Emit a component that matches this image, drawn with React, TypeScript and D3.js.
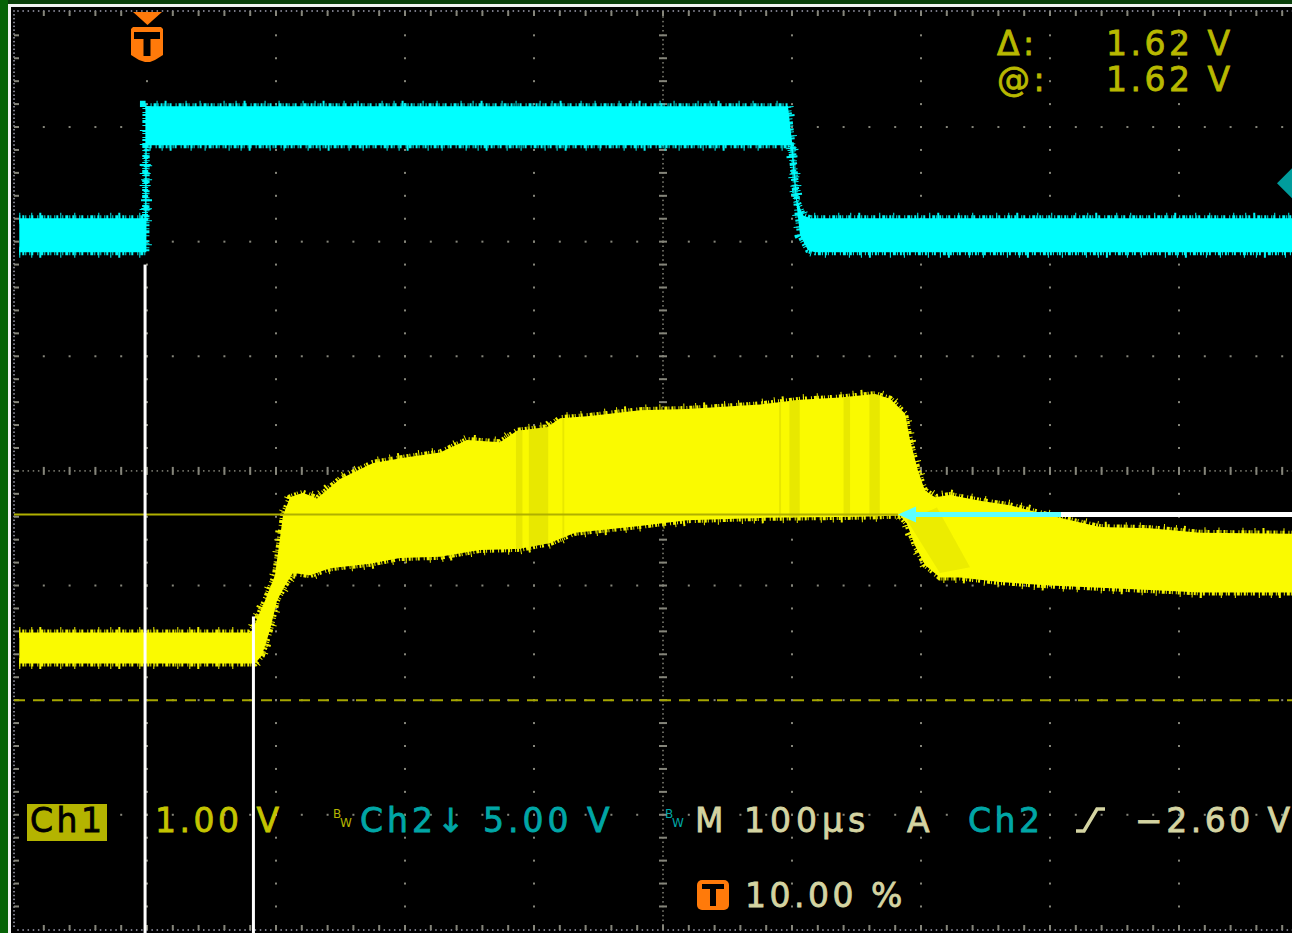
import React from 'react';
import * as d3 from 'd3';

const W = 1292;
const H = 933;

// horizontal: 100 µs/div, trigger position 10 %
const timeDomain: [number, number] = [-100, 900];
const divDomain: [number, number] = [-4, 4];

const ch1VoltsPerDiv = 1.0;
const ch1OffsetDiv = -2; // ch1 ground = dashed line
const ch2VoltsPerDiv = 5.0;
const ch2OffsetDiv = 2.51; // ch2 ground marker on the right

// ch1 (yellow) envelope, [µs, V]
const ch1Upper: [number, number][] = [
  [-99, 0.59], [79.8, 0.59], [81.4, 0.61], [91.5, 0.87], [99.2, 1.09], [105.4, 1.61],
  [110.9, 1.77], [120.9, 1.81], [131.8, 1.76], [149.6, 1.93], [175.2, 2.07], [201.6, 2.12],
  [227.1, 2.16], [248.1, 2.27], [273.6, 2.25], [286.8, 2.35], [310.1, 2.38], [320.2, 2.46],
  [343.4, 2.48], [382.2, 2.53], [418.6, 2.54], [475.2, 2.58], [506.2, 2.62], [537.2, 2.64],
  [564.3, 2.67], [576.0, 2.63], [587.6, 2.50], [591.5, 2.27], [597.7, 2.0], [603.1, 1.83],
  [610.9, 1.77], [622.5, 1.79], [645.7, 1.74], [669.0, 1.70], [700.0, 1.61], [738.8, 1.51],
  [777.5, 1.50], [816.3, 1.46], [900, 1.45],
];
const ch1Lower: [number, number][] = [
  [-99, 0.32], [83.7, 0.32], [89.1, 0.39], [95.3, 0.61], [100.8, 0.87], [107.0, 1.0],
  [113.2, 1.11], [126.4, 1.09], [141.9, 1.15], [172.9, 1.19], [196.1, 1.24], [227.1, 1.25],
  [258.1, 1.31], [289.1, 1.32], [312.4, 1.37], [331.8, 1.46], [382.2, 1.52], [418.6, 1.57],
  [475.2, 1.59], [552.7, 1.60], [583.7, 1.61], [589.1, 1.54], [595.3, 1.35], [603.1, 1.18],
  [614.7, 1.07], [630.2, 1.07], [661.2, 1.03], [700.0, 1.0], [738.8, 0.98], [777.5, 0.96],
  [816.3, 0.94], [900, 0.94],
];
// darker persistence stripes inside the ch1 band, [µs from, µs to]
const ch1Shade: [number, number][] = [
  [286, 291], [296, 311], [322, 323.5], [490, 491.5], [498, 506], [540, 545], [560, 568],
];
// darker wedge behind the ch1 falling edge, [µs, V]
const ch1FallShade: [number, number][] = [
  [589.1, 1.57], [612.4, 1.68], [638, 1.16], [614.7, 1.11],
];

// ch2 (cyan) envelope, [µs, V]
const ch2Upper: [number, number][] = [
  [-99, -1.53], [-1.5, -1.53], [-1.2, 3.36], [496.9, 3.36], [500.8, 1.43], [503.9, -0.74],
  [508.5, -1.4], [514, -1.53], [900, -1.53],
];
const ch2Lower: [number, number][] = [
  [-99, -3.01], [-0.5, -3.01], [-0.2, 1.66], [499.2, 1.66], [502.3, -0.31], [506.2, -2.27],
  [512.4, -2.92], [517.8, -3.01], [900, -3.01],
];

// cursor readout
const cursorVolts = 1.62;
const cursorArrowTip = 582.2; // µs
const cursorArrowEnd = 708.5; // µs, cyan part ends, white continues

// white delay markers: [µs, top in div]
const delayMarkers: [number, number][] = [
  [-1.5, 1.8],
  [82.5, -1.27],
];

const readoutTop = [
  { label: 'Δ:', value: '1.62 V' },
  { label: '@:', value: '1.62 V' },
];

const YEL = '#b8b800';
const TEAL = '#00a6a6';
const KHAKI = '#d4d4a2';
const ORANGE = '#ff7a0a';
const GRID = '#85857a';
const FRAME = '#a2a2b4';
const FONT = '"DejaVu Sans", sans-serif';

export default function App() {
  const x = d3.scaleLinear().domain(timeDomain).range([18, 1308]);
  const yDiv = d3.scaleLinear().domain(divDomain).range([929.4, 12.4]);
  const y1 = (v: number) => yDiv(v / ch1VoltsPerDiv + ch1OffsetDiv);
  const y2 = (v: number) => yDiv(v / ch2VoltsPerDiv + ch2OffsetDiv);

  const line1 = d3.line<[number, number]>().x(d => x(d[0])).y(d => y1(d[1]));
  const line2 = d3.line<[number, number]>().x(d => x(d[0])).y(d => y2(d[1]));
  const band1 = line1(ch1Upper.concat(ch1Lower.slice().reverse())) + 'Z';
  const band2 = line2(ch2Upper.concat(ch2Lower.slice().reverse())) + 'Z';

  // graticule
  const majorT = d3.range(0, 11).map(i => timeDomain[0] + i * 100);
  const majorD = d3.range(-3, 4);
  const minorT = d3.range(1, 50).map(k => timeDomain[0] + k * 20);
  const minorD = d3.range(1, 40).map(k => divDomain[0] + k * 0.2);
  const fineT = d3.range(0, 251).map(k => timeDomain[0] + k * 4);
  const fineD = d3.range(0, 201).map(k => divDomain[0] + k * 0.04);

  const dots: JSX.Element[] = [];
  majorT.slice(1, 10).forEach(t => {
    if (t === 400) return;
    minorD.forEach((d, i) =>
      dots.push(<rect key={`v${t}-${i}`} x={x(t) - 1} y={yDiv(d) - 1} width={2} height={2} fill={GRID} />));
  });
  majorD.forEach(dd => {
    if (dd === 0) return;
    minorT.forEach((t, i) =>
      dots.push(<rect key={`h${dd}-${i}`} x={x(t) - 1} y={yDiv(dd) - 1} width={2} height={2} fill={GRID} />));
  });
  // centre lines
  fineT.forEach((t, i) =>
    dots.push(<rect key={`ch${i}`} x={x(t) - 0.75} y={yDiv(0) - 0.75} width={1.5} height={1.5} fill={GRID} />));
  fineD.forEach((d, i) =>
    dots.push(<rect key={`cv${i}`} x={x(400) - 0.75} y={yDiv(d) - 0.75} width={1.5} height={1.5} fill={GRID} />));
  minorT.forEach((t, i) =>
    dots.push(<rect key={`cht${i}`} x={x(t) - 1} y={yDiv(0) - 4} width={2} height={8} fill={GRID} />));
  minorD.forEach((d, i) =>
    dots.push(<rect key={`cvt${i}`} x={x(400) - 4} y={yDiv(d) - 1} width={8} height={2} fill={GRID} />));
  // frame
  const fTop = 11, fBot = 930, fLeft = 14;
  fineT.forEach((t, i) => {
    dots.push(<rect key={`ft${i}`} x={x(t) - 0.75} y={fTop - 0.75} width={1.5} height={1.5} fill={FRAME} />);
    dots.push(<rect key={`fb${i}`} x={x(t) - 0.75} y={fBot - 0.75} width={1.5} height={1.5} fill={FRAME} />);
  });
  d3.range(0, 240).forEach(k => {
    const yy = fTop + k * ((fBot - fTop) / 240);
    dots.push(<rect key={`fl${k}`} x={fLeft - 0.75} y={yy - 0.75} width={1.5} height={1.5} fill={FRAME} />);
  });
  minorT.forEach((t, i) => {
    dots.push(<rect key={`ftt${i}`} x={x(t) - 1} y={fTop} width={2} height={5} fill={GRID} />);
    dots.push(<rect key={`fbt${i}`} x={x(t) - 1} y={fBot - 5} width={2} height={5} fill={GRID} />);
  });
  minorD.forEach((d, i) =>
    dots.push(<rect key={`flt${i}`} x={fLeft} y={yDiv(d) - 1} width={5} height={2} fill={GRID} />));

  // noisy edge look, done with irregular dashes along the envelope
  const jag = (p: string, color: string, key: string) => [
    <path key={key + 'a'} d={p} fill="none" stroke={color} strokeWidth={6}
      strokeDasharray="1 2 2 1 1 3 1 1 2 4 1 2 3 1" />,
    <path key={key + 'b'} d={p} fill="none" stroke={color} strokeWidth={11}
      strokeDasharray="1 11 1 7 2 19 1 13 1 23" />,
  ];

  const tY = y1(cursorVolts);
  const tipX = x(cursorArrowTip);

  return (
    <svg width={W} height={H} style={{ position: 'absolute', left: 0, top: 0, display: 'block', background: '#000' }}
      fontFamily={FONT}>
      <rect x={0} y={0} width={W} height={H} fill="#000" />
      {/* bezel */}
      <rect x={0} y={0} width={W} height={4} fill="#0a3f0a" />
      <rect x={0} y={0} width={8} height={H} fill="#066306" />
      <rect x={8} y={4} width={W} height={3} fill="#f2f2f2" />
      <rect x={8} y={4} width={3} height={H} fill="#f2f2f2" />

      <g>{dots}</g>

      {/* ch1 ground (dashed) */}
      <line x1={fLeft} x2={W} y1={y1(0)} y2={y1(0)} stroke="#a6a600" strokeWidth={2} strokeDasharray="11 8" />

      <clipPath id="plot"><rect x={16} y={12} width={W} height={916} /></clipPath>
      <g clipPath="url(#plot)">
        {jag(line2(ch2Upper)!, '#00f4f4', 'c2u')}
        {jag(line2(ch2Lower)!, '#00f4f4', 'c2l')}
        <path d={band2} fill="#00ffff" />

        {jag(line1(ch1Upper)!, '#f0f000', 'c1u')}
        {jag(line1(ch1Lower)!, '#f0f000', 'c1l')}
        <path d={band1} fill="#fafa00" />
        <clipPath id="band1"><path d={band1} /></clipPath>
        <g clipPath="url(#band1)">
          {ch1Shade.map(([a, b], i) => (
            <rect key={i} x={x(a)} width={x(b) - x(a)} y={0} height={H} fill="#d8d800" opacity={0.55} />
          ))}
          <path d={line1(ch1FallShade) + 'Z'} fill="#d8d800" opacity={0.4} />
        </g>
      </g>

      {/* cursor */}
      <line x1={fLeft} x2={tipX} y1={tY} y2={tY} stroke="#b0b000" strokeWidth={2} />
      <line x1={tipX + 10} x2={x(cursorArrowEnd)} y1={tY} y2={tY} stroke="#5cffff" strokeWidth={5} />
      <line x1={x(cursorArrowEnd)} x2={W} y1={tY} y2={tY} stroke="#ffffff" strokeWidth={5} />
      <polygon points={`${tipX},${tY} ${tipX + 18},${tY - 8} ${tipX + 18},${tY + 8}`} fill="#5cffff" />

      {/* delay markers */}
      {delayMarkers.map(([t, d], i) => (
        <rect key={i} x={x(t) - 1.5} y={yDiv(d)} width={3} height={H - yDiv(d)} fill="#ffffff" />
      ))}

      {/* ch2 ground marker */}
      <polygon points={`1277,${y2(0)} 1292,${y2(0) - 15} 1307,${y2(0)} 1292,${y2(0) + 15}`} fill="#009c9c" />

      {/* trigger position marker */}
      <g>
        <polygon points={`${x(0) - 14},12 ${x(0) + 15},12 ${x(0) + 0.5},25`} fill={ORANGE} />
        <path d={`M${x(0) - 16},29 L${x(0) - 14},27 H${x(0) + 14} L${x(0) + 16},29 V55 L${x(0) + 8},60 L${x(0) + 3},62 H${x(0) - 2} L${x(0) - 8},60 L${x(0) - 16},55 Z`} fill={ORANGE} />
        <rect x={x(0) - 13} y={32} width={26} height={7} fill="#000" />
        <rect x={x(0) - 3.5} y={32} width={7} height={24} fill="#000" />
      </g>

      {/* readouts top right */}
      {readoutTop.map((r, i) => (
        <g key={i} fill={YEL} stroke={YEL} strokeWidth={0.8} fontSize={33} letterSpacing={3.5}>
          <text x={997} y={55 + i * 36}>{r.label}</text>
          <text x={1106} y={55 + i * 36}>{r.value}</text>
        </g>
      ))}

      {/* bottom readouts */}
      <g fontSize={33} letterSpacing={3.5} strokeWidth={0.8}>
        <rect x={27} y={804} width={80} height={37} fill="#b4b400" />
        <text x={30} y={832} fill="#000" stroke="#000">Ch1</text>
        <text x={155} y={832} fill="#c4c400" stroke="#c4c400">1.00 V</text>
        <text x={333} y={818} fontSize={12} letterSpacing={0} fill="#b4b400">B</text>
        <text x={340} y={827} fontSize={12} letterSpacing={0} fill="#b4b400">W</text>
        <text x={360} y={832} fill={TEAL} stroke={TEAL} letterSpacing={4}>Ch2↓ 5.00 V</text>
        <text x={665} y={818} fontSize={12} letterSpacing={0} fill={TEAL}>B</text>
        <text x={672} y={827} fontSize={12} letterSpacing={0} fill={TEAL}>W</text>
        <text x={695} y={832} fill={KHAKI} stroke={KHAKI} letterSpacing={5}>M 100µs</text>
        <text x={907} y={832} fill={KHAKI} stroke={KHAKI}>A</text>
        <text x={968} y={832} fill={TEAL} stroke={TEAL}>Ch2</text>
        <path d="M1076,831 H1084 L1097,809 H1105" fill="none" stroke={KHAKI} strokeWidth={3.5} />
        <text x={1135} y={832} fill={KHAKI} stroke={KHAKI}>−2.60 V</text>

        <rect x={697} y={880} width={32} height={30} rx={5} fill={ORANGE} />
        <rect x={702} y={884} width={22} height={5} fill="#000" />
        <rect x={710} y={884} width={6} height={22} fill="#000" />
        <text x={745} y={907} fill={KHAKI} stroke={KHAKI}>10.00 %</text>
      </g>
    </svg>
  );
}
